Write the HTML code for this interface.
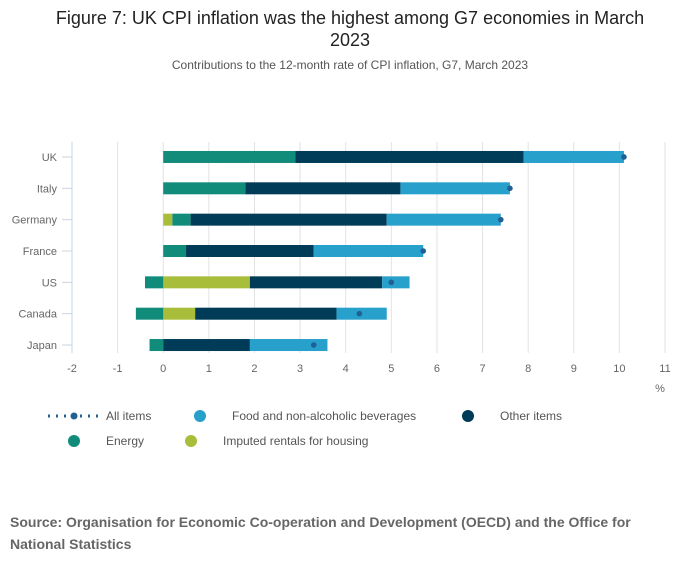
<!DOCTYPE html>
<html><head><meta charset="utf-8"><style>
body{margin:0;background:#fff;font-family:"Liberation Sans","DejaVu Sans",sans-serif}
</style></head><body>
<svg width="700" height="574" xmlns="http://www.w3.org/2000/svg">
<text x="350" y="24" text-anchor="middle" font-size="18" fill="#222">Figure 7: UK CPI inflation was the highest among G7 economies in March</text>
<text x="350" y="46" text-anchor="middle" font-size="18" fill="#222">2023</text>
<text x="350" y="69" text-anchor="middle" font-size="12" fill="#555">Contributions to the 12-month rate of CPI inflation, G7, March 2023</text>
<g id="plot"></g>
<g id="legend" font-size="12" fill="#555">
<g><line x1="48" y1="416" x2="98" y2="416" stroke="#206095" stroke-width="3" stroke-dasharray="2,6"/><circle cx="74" cy="416" r="3.5" fill="#206095"/><text x="106" y="420">All items</text></g>
<g><circle cx="200" cy="416" r="6" fill="#27a0cc"/><text x="232" y="420">Food and non-alcoholic beverages</text></g>
<g><circle cx="468" cy="416" r="6" fill="#003c57"/><text x="500" y="420">Other items</text></g>
<g><circle cx="74" cy="441" r="6" fill="#118c7b"/><text x="106" y="445">Energy</text></g>
<g><circle cx="191" cy="441" r="6" fill="#a8bd3a"/><text x="223" y="445">Imputed rentals for housing</text></g>
</g>
<text x="10" y="527" font-size="14" font-weight="bold" fill="#666">Source: Organisation for Economic Co-operation and Development (OECD) and the Office for</text>
<text x="10" y="549" font-size="14" font-weight="bold" fill="#666">National Statistics</text>
</svg>
<script>
const countries=["UK","Italy","Germany","France","US","Canada","Japan"];
const imputed=[0,0,0.2,0,1.9,0.7,0];
const energy=[2.9,1.8,0.4,0.5,-0.4,-0.6,-0.3];
const other=[5.0,3.4,4.3,2.8,2.9,3.1,1.9];
const food=[2.2,2.4,2.5,2.4,0.6,1.1,1.7];
const allItems=[10.1,7.6,7.4,5.7,5.0,4.3,3.3];
const ticks=[-2,-1,0,1,2,3,4,5,6,7,8,9,10,11];
const X0=72,X1=665,Y0=141.3,Y1=360.7,xmin=-2,xmax=11,GT=142,GB=353;
const x=v=>X0+(v-xmin)*(X1-X0)/(xmax-xmin);
const rowH=(Y1-Y0)/countries.length;
const y=i=>Y0+rowH*(i+0.5);
const NS="http://www.w3.org/2000/svg";
const g=document.getElementById('plot');
function mk(t,a,p){const e=document.createElementNS(NS,t);for(const k in a)e.setAttribute(k,a[k]);(p||g).appendChild(e);return e;}
ticks.forEach(t=>{
 const l=mk('line',{x1:x(t),x2:x(t),y1:GT,y2:GB,stroke:t===xmin?'#c8d4e3':'#e2e2e2','stroke-width':1});
 
 
 const tx=mk('text',{x:x(t),y:372,'text-anchor':'middle','font-size':11,fill:'#666'});tx.textContent=t;
 
 
});
const pc=mk('text',{x:660,y:392,'text-anchor':'middle','font-size':11,fill:'#666'});pc.textContent='%';


const series=[[imputed,'#a8bd3a','imputed'],[energy,'#118c7b','energy'],[other,'#003c57','other'],[food,'#27a0cc','food']];
countries.forEach((c,i)=>{
 const cy=y(i);
 const tk=mk('line',{x1:62,x2:72,y1:cy,y2:cy,stroke:'#c8d4e3'});
 
 
 const lb=mk('text',{x:57,y:cy+4,'text-anchor':'end','font-size':11,fill:'#666'});lb.textContent=c;
 
 
 let pos=0,neg=0;
 series.forEach(([arr,col,nm])=>{
  const v=arr[i];if(!v)return;let a,b;
  if(v>0){a=pos;b=pos+v;pos=b;}else{b=neg;a=neg+v;neg=a;}
  const r=mk('rect',{x:x(a),y:cy-6,width:x(b)-x(a),height:12,fill:col});
  
  
 });
 const d=mk('circle',{cx:x(allItems[i]),cy:cy,r:2.8,fill:'#206095'});
 
 
});
</script>
</body></html>
